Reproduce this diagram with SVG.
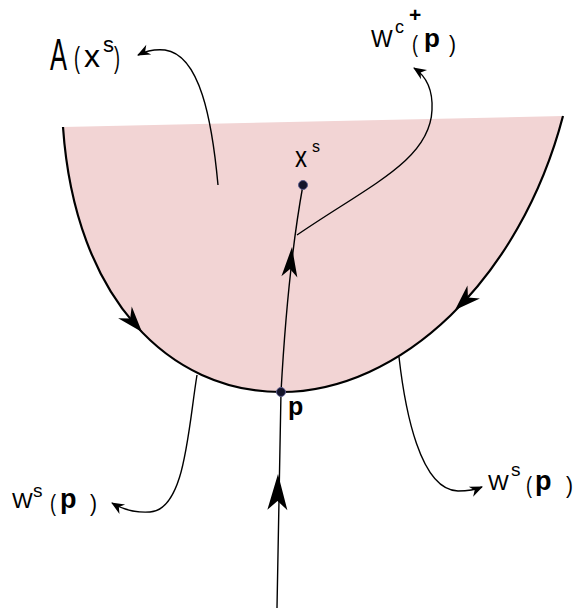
<svg xmlns="http://www.w3.org/2000/svg" width="579" height="609" viewBox="0 0 579 609">
<defs>
<style>
.t{font-family:"Liberation Sans",Arial,sans-serif;fill:#000}
.b{font-weight:bold}
.c{fill:none;stroke:#000;stroke-width:1.4}
.ah{fill:#000}
.dot{fill:#14142a;stroke:#5a5a8a;stroke-width:1}
</style>
<marker id="end" markerUnits="userSpaceOnUse" markerWidth="20" markerHeight="16" refX="0" refY="0" viewBox="-14 -8 16 16" orient="auto">
<path d="M1,0 L-12,-5.5 L-8,0 L-12,5.5 Z" fill="#000"/>
</marker>
</defs>
<g id="region">
<path d="M63,127 L563,116 C520,280 400,392 281,392 C170,392 75,300 63,127 Z" fill="#f2d4d4"/>
<path d="M563,116 C520,280 400,392 281,392 C170,392 75,300 63,127" fill="none" stroke="#000" stroke-width="2.2"/>
<path class="ah" d="M0,0 L-26,-9 L-18,0 L-26,9 Z" transform="translate(142,332) rotate(49)"/>
<path class="ah" d="M0,0 L-26,-9 L-18,0 L-26,9 Z" transform="translate(455,310) rotate(136)"/>
</g>
<g id="connectors">
<path class="c" d="M277,608 C278,520 280,450 281,392 C285,320 293,240 303,185"/>
<path class="ah" d="M0,0 L-30,-8 L-22,0 L-30,8 Z" transform="translate(292,247) rotate(-85)"/>
<path class="ah" d="M0,0 L-36,-10 L-27,0 L-36,10 Z" transform="translate(278,474) rotate(-89)"/>
<path class="c" d="M297,235 C370,185 430,160 432,110 C433,90 426,76 414,68" marker-end="url(#end)"/>
<path class="c" d="M218,185 C212,120 200,55 165,50 C155,49 146,51 138,55" marker-end="url(#end)"/>
<path class="c" d="M197,375 C188,430 185,510 150,512 C135,513 122,509 112,503" marker-end="url(#end)"/>
<path class="c" d="M399,357 C405,410 420,490 458,491 C468,491 475,490 482,487" marker-end="url(#end)"/>
</g>
<g id="node-xs">
<circle class="dot" cx="303" cy="185" r="4.5"/>
<text class="t" x="295" y="167" font-size="30" textLength="12" lengthAdjust="spacingAndGlyphs">x</text>
<text class="t" x="312" y="152" font-size="16">s</text>
</g>
<g id="node-p">
<circle class="dot" cx="281" cy="392" r="4.5"/>
<text class="t b" x="288" y="415" font-size="25">p</text>
</g>
<g id="label-A">
<text class="t" x="50" y="70" font-size="44" textLength="17" lengthAdjust="spacingAndGlyphs">A</text>
<text class="t" x="74" y="68" font-size="30" textLength="6" lengthAdjust="spacingAndGlyphs">(</text>
<text class="t" x="84" y="67" font-size="32" textLength="16" lengthAdjust="spacingAndGlyphs">x</text>
<text class="t" x="103" y="52" font-size="22">s</text>
<text class="t" x="114" y="68" font-size="30" textLength="6" lengthAdjust="spacingAndGlyphs">)</text>
</g>
<g id="label-Wc">
<text class="t" x="371" y="47" font-size="23">W</text>
<text class="t" x="395" y="33" font-size="18">c</text>
<text class="t b" x="409" y="22" font-size="21">+</text>
<text class="t" x="412" y="52" font-size="24" textLength="6" lengthAdjust="spacingAndGlyphs">(</text>
<text class="t b" x="424" y="47" font-size="26">p</text>
<text class="t" x="449" y="52" font-size="24" textLength="7" lengthAdjust="spacingAndGlyphs">)</text>
</g>
<g id="label-Ws-left">
<text class="t" x="12" y="508" font-size="22">W</text>
<text class="t" x="33" y="497" font-size="19">s</text>
<text class="t" x="50" y="511" font-size="24" textLength="6" lengthAdjust="spacingAndGlyphs">(</text>
<text class="t b" x="60" y="508" font-size="27">p</text>
<text class="t" x="90" y="511" font-size="24" textLength="7" lengthAdjust="spacingAndGlyphs">)</text>
</g>
<g id="label-Ws-right">
<text class="t" x="488" y="490" font-size="22">W</text>
<text class="t" x="511" y="476" font-size="19">s</text>
<text class="t" x="526" y="493" font-size="24" textLength="6" lengthAdjust="spacingAndGlyphs">(</text>
<text class="t b" x="535" y="490" font-size="27">p</text>
<text class="t" x="566" y="493" font-size="24" textLength="7" lengthAdjust="spacingAndGlyphs">)</text>
</g>
</svg>
